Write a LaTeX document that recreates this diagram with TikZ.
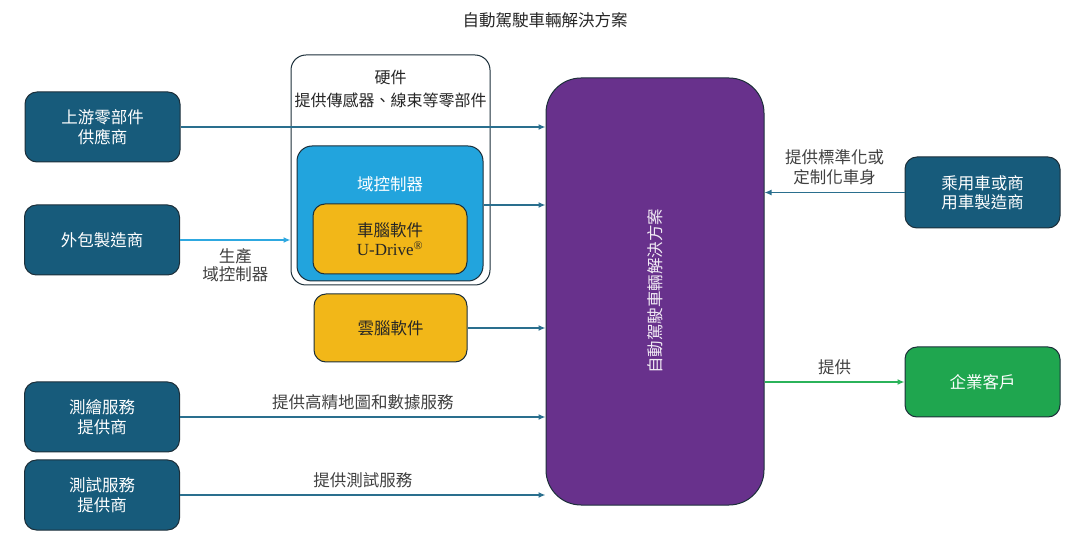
\documentclass[tikz,border=0pt]{standalone}
\usepackage{fontspec}
\setmainfont{Noto Sans CJK TC}
\newfontfamily\latinserif{Liberation Serif}
\usetikzlibrary{arrows.meta,positioning}

\definecolor{tealbox}{HTML}{175B7B}
\definecolor{skybox}{HTML}{22A4DD}
\definecolor{goldbox}{HTML}{F2B718}
\definecolor{plumbox}{HTML}{68318C}
\definecolor{leafbox}{HTML}{1FA64F}
\definecolor{edgedark}{HTML}{1C2F3A}
\definecolor{labelgray}{HTML}{404040}
\definecolor{flowteal}{HTML}{2A6F8E}
\definecolor{flowsky}{HTML}{2EA8E0}
\definecolor{flowleaf}{HTML}{2BB35A}

\tikzset{
  boxtext/.style={font=\fontsize{16.5}{19.5}\selectfont, align=center},
  party/.style={boxtext, draw=edgedark, line width=1pt, fill=tealbox, text=white,
    rounded corners=12pt, minimum width=155pt, minimum height=70pt},
  softbox/.style={boxtext, draw=edgedark, line width=1pt, fill=goldbox, text=black!85,
    rounded corners=12pt},
  flowlabel/.style={font=\fontsize{16.5}{18}\selectfont, text=labelgray, align=center},
  flow/.style={draw=flowteal, line width=1.4pt, -{Latex[length=7pt,width=6pt]}}
}

\begin{document}
\begin{tikzpicture}[x=1pt, y=-1pt]
\useasboundingbox (0,0) rectangle (1080,545);

\node[font=\fontsize{16.5}{18}\selectfont, text=black!85] (title) at (545,20) {自動駕駛車輛解決方案};

% suppliers on the left
\node[party] (upstream) at (102.5,127) {上游零部件\\供應商};
\node[party] (outsource) at (102,240) {外包製造商};
\node[party] (mapping) at (102,417) {測繪服務\\提供商};
\node[party] (testing) at (102,495) {測試服務\\提供商};

% hardware group
\node[draw=edgedark, line width=1pt, fill=white, rounded corners=15pt,
  minimum width=199pt, minimum height=230pt] (hardware) at (390.5,170) {};
\node[boxtext, text=black!85, font=\fontsize{16}{23}\selectfont] (hwtitle) at (390.5,88.5) {硬件\\提供傳感器、線束等零部件};
\node[draw=edgedark, line width=1pt, fill=skybox, rounded corners=15pt,
  minimum width=186pt, minimum height=135pt] (domain) at (390,213.5) {};
\node[boxtext, text=white] (domtitle) at (390,184) {域控制器};
\node[softbox, minimum width=154pt, minimum height=70pt] (carbrain) at (390,239)
  {車腦軟件\\{\latinserif\fontsize{17}{19}\selectfont U-Drive\textsuperscript{®}}};
\node[softbox, minimum width=153pt, minimum height=68pt] (cloudbrain) at (390.5,328) {雲腦軟件};

% solution
\node[draw=edgedark, line width=1pt, fill=plumbox, rounded corners=35pt,
  minimum width=218pt, minimum height=427pt] (solution) at (655,291.5) {};
\node[boxtext, text=white!90!plumbox, rotate=90] (soltitle) at (solution.center) {自動駕駛車輛解決方案};

% right side
\node[party, minimum height=71pt] (oem) at (982.5,192.5) {乘用車或商\\用車製造商};
\node[party, fill=leafbox] (enterprise) at (982.5,382) {企業客戶};

% connectors
\coordinate (domout) at ([yshift=8.5pt]domain.east);
\draw[flow] (upstream.east) -- (upstream.east -| solution.west);
\draw[flow, draw=flowsky] (outsource.east) -- (outsource.east -| hardware.west)
  node[midway, below=4pt, flowlabel] {生產\\域控制器};
\draw[flow] (domout) -- (domout -| solution.west);
\draw[flow] (cloudbrain.east) -- (cloudbrain.east -| solution.west);
\draw[flow] (mapping.east) -- (mapping.east -| solution.west)
  node[midway, above=3pt, flowlabel] {提供高精地圖和數據服務};
\draw[flow] (testing.east) -- (testing.east -| solution.west)
  node[midway, above=3pt, flowlabel] {提供測試服務};
\draw[flow] (oem.west) -- (oem.west -| solution.east)
  node[midway, above=4pt, flowlabel, font=\fontsize{16.5}{20}\selectfont] {提供標準化或\\定制化車身};
\draw[flow, draw=flowleaf] (enterprise.west -| solution.east) -- (enterprise.west)
  node[midway, above=3pt, flowlabel] {提供};
\end{tikzpicture}
\end{document}
